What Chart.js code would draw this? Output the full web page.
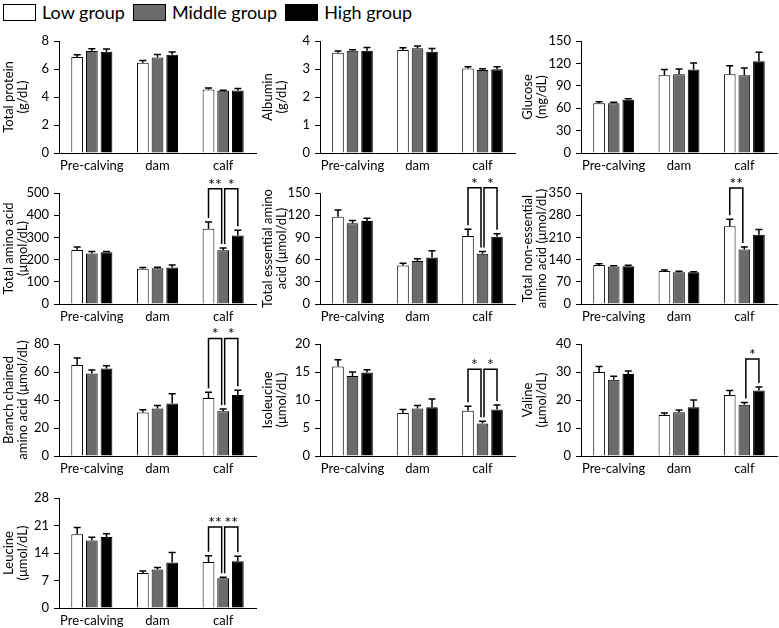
<!DOCTYPE html>
<html><head><meta charset="utf-8">
<script src="https://cdn.jsdelivr.net/npm/chart.js@4"></script>
<style>
html,body{margin:0;padding:0;background:#fff;width:779px;height:628px;overflow:hidden;position:relative;font-family:Lato,sans-serif;}
.pan{position:absolute;}
#legend{position:absolute;left:3px;top:1px;display:flex;align-items:center;font-size:18px;color:#000;white-space:nowrap;}
#legend span.box{display:inline-block;width:31px;height:15px;border:1.5px solid #000;margin-right:6px;}
#legend span.item{display:flex;align-items:center;margin-right:8px;}
</style></head><body>
<div id="legend"></div>
<script>
const categories = ['Pre-calving', 'dam', 'calf'];
const seriesNames = ['Low group', 'Middle group', 'High group'];

// means [low, middle, high] per category; errors likewise
const totalProteinMean = [[6.85, 6.44, 4.53], [7.28, 6.83, 4.44], [7.23, 7.02, 4.46]];
const totalProteinErr  = [[0.17, 0.17, 0.12], [0.17, 0.20, 0.05], [0.19, 0.20, 0.14]];
const albuminMean = [[3.58, 3.68, 3.02], [3.65, 3.74, 2.96], [3.65, 3.62, 2.99]];
const albuminErr  = [[0.06, 0.08, 0.06], [0.04, 0.08, 0.05], [0.12, 0.11, 0.09]];
const glucoseMean = [[66.7, 104, 105.4], [66.7, 105.4, 104], [71.2, 111.7, 123]];
const glucoseErr  = [[1.8, 7.7, 11.6], [1.3, 7.2, 10], [1.3, 9, 12]];
const taaMean = [[243, 159, 339], [227, 161, 242], [233, 164, 309]];
const taaErr  = [[14, 5, 30], [10, 4, 10], [4, 12, 23]];
const teaaMean = [[118, 52, 92], [109, 58, 68], [112, 63, 91]];
const teaaErr  = [[9, 3, 9], [4, 3, 3], [4, 9, 4]];
const tneaaMean = [[123, 104, 245], [118, 100, 172], [119, 100, 218]];
const tneaaErr  = [[4, 3, 22], [3, 3, 8], [3, 2, 17]];
const bcaaMean = [[65, 31, 41.5], [59, 34, 32], [62.5, 37.5, 43.5]];
const bcaaErr  = [[5, 2, 4], [2.5, 2, 1.5], [2, 7, 3.5]];
const ileMean = [[16, 7.7, 8.1], [14.3, 8.5, 5.8], [14.9, 8.7, 8.3]];
const ileErr  = [[1.2, 0.6, 0.8], [0.7, 0.5, 0.4], [0.5, 1.5, 0.8]];
const valMean = [[30, 14.6, 21.8], [27.2, 15.6, 18.3], [29.3, 17.4, 23.4]];
const valErr  = [[2, 0.8, 1.6], [1.3, 0.8, 0.8], [1.1, 2.6, 1.2]];
const leuMean = [[18.8, 8.9, 11.7], [17.2, 9.8, 7.6], [18.1, 11.6, 11.9]];
const leuErr  = [[1.7, 0.5, 1.6], [0.8, 0.5, 0.2], [0.8, 2.5, 1.3]];

// y-axis ranges [max, step]
const yRanges = [[8, 2], [4, 1], [150, 30], [500, 100], [150, 30], [350, 70], [80, 20], [20, 5], [40, 10], [28, 7]];
const yTitles = [
  ['Total protein', '(g/dL)'], ['Albumin', '(g/dL)'], ['Glucose', '(mg/dL)'],
  ['Total amino acid', '(μmol/dL)'], ['Total essential amino', 'acid (μmol/dL)'], ['Total non-essential', 'amino acid (μmol/dL)'],
  ['Branch chained', 'amino acid (μmol/dL)'], ['Isoleucine', '(μmol/dL)'], ['Valine', '(μmol/dL)'],
  ['Leucine', '(μmol/dL)']
];
// significance brackets on "calf": [fromSeries, toSeries, bracketTopValue, label]
const sigTAA   = [[0, 1, 519, '**'], [1, 2, 519, '*']];
const sigTEAA  = [[0, 1, 157, '*'], [1, 2, 157, '*']];
const sigTNEAA = [[0, 1, 366, '**']];
const sigBCAA  = [[0, 1, 84, '*'], [1, 2, 84, '*']];
const sigIle   = [[0, 1, 15.5, '*'], [1, 2, 15.5, '*']];
const sigVal   = [[1, 2, 34.6, '*']];
const sigLeu   = [[0, 1, 20.6, '**'], [1, 2, 20.6, '**']];

const panelsData = [
  [totalProteinMean, totalProteinErr, []], [albuminMean, albuminErr, []], [glucoseMean, glucoseErr, []],
  [taaMean, taaErr, sigTAA], [teaaMean, teaaErr, sigTEAA], [tneaaMean, tneaaErr, sigTNEAA],
  [bcaaMean, bcaaErr, sigBCAA], [ileMean, ileErr, sigIle], [valMean, valErr, sigVal],
  [leuMean, leuErr, sigLeu]
];

// ---- layout (styling, not data) ----
const FONT = 'Lato, "Noto Sans", sans-serif';
const fills = ['#ffffff', '#6b6b6b', '#000000'];
const colLeft = [0, 259, 519], colWidth = [259, 259, 260], axisX = [59, 320, 581], rightEnd = [256, 515, 777];
const rowTop = [41, 193, 344, 498], rowZero = [153, 304, 456, 608];
const PADTOP = 28, XAXH = 24, BELOW = 26;

// legend
const lg = document.getElementById('legend');
seriesNames.forEach((n, i) => {
  const it = document.createElement('span'); it.className = 'item';
  const b = document.createElement('span'); b.className = 'box'; b.style.background = fills[i];
  const t = document.createElement('span'); t.textContent = n;
  it.appendChild(b); it.appendChild(t); lg.appendChild(it);
});

const errPlugin = {
  id: 'errbars',
  afterDatasetsDraw(chart) {
    const ctx = chart.ctx, ys = chart.scales.y;
    const errs = chart.options.plugins.errbars.errors;
    ctx.save(); ctx.strokeStyle = '#000'; ctx.lineWidth = 1.5;
    chart.data.datasets.forEach((ds, di) => {
      chart.getDatasetMeta(di).data.forEach((bar, i) => {
        const yt = ys.getPixelForValue(ds.data[i] + errs[di][i]);
        ctx.beginPath();
        ctx.moveTo(bar.x, bar.y); ctx.lineTo(bar.x, yt);
        ctx.moveTo(bar.x - 3.5, yt); ctx.lineTo(bar.x + 3.5, yt);
        ctx.stroke();
      });
    });
    const sig = chart.options.plugins.errbars.sig;
    const ci = 2;
    sig.forEach(([a, b, top, label]) => {
      const ba = chart.getDatasetMeta(a).data[ci], bb = chart.getDatasetMeta(b).data[ci];
      const xa = ba.x + (a === 1 ? 1.5 : 0), xb = bb.x - (b === 1 ? 1.5 : 0);
      const ya = ys.getPixelForValue(chart.data.datasets[a].data[ci] + errs[a][ci]) - 4;
      const yb = ys.getPixelForValue(chart.data.datasets[b].data[ci] + errs[b][ci]) - 4;
      const yt = ys.getPixelForValue(top);
      ctx.beginPath();
      ctx.moveTo(xa, ya); ctx.lineTo(xa, yt); ctx.lineTo(xb, yt); ctx.lineTo(xb, yb);
      ctx.stroke();
      ctx.fillStyle = '#000'; ctx.font = '16px ' + FONT; ctx.textAlign = 'center'; ctx.textBaseline = 'alphabetic';
      ctx.fillText(label, (xa + xb) / 2, yt + 1);
    });
    ctx.restore();
  }
};

panelsData.forEach(([mean, err, sig], p) => {
  const r = Math.floor(p / 3), c = p % 3;
  const top = rowTop[r] - PADTOP;
  const h = rowZero[r] + BELOW - top;
  const div = document.createElement('div'); div.className = 'pan';
  div.style.left = colLeft[c] + 'px'; div.style.top = top + 'px';
  div.style.width = colWidth[c] + 'px'; div.style.height = h + 'px';
  const cv = document.createElement('canvas'); cv.width = colWidth[c]; cv.height = h;
  div.appendChild(cv); document.body.appendChild(div);
  const yW = axisX[c] - colLeft[c];
  const [ymax, ystep] = yRanges[p];
  new Chart(cv, {
    type: 'bar',
    data: {
      labels: categories,
      datasets: mean.map((m, i) => ({
        label: seriesNames[i], data: m, backgroundColor: fills[i], borderColor: '#000', borderWidth: 1,
        categoryPercentage: 0.67, barPercentage: 0.8
      }))
    },
    options: {
      responsive: false, animation: false, devicePixelRatio: 1,
      layout: { padding: { left: 0, top: PADTOP, right: colLeft[c] + colWidth[c] - rightEnd[c], bottom: h - PADTOP - (rowZero[r] - rowTop[r]) - XAXH } },
      plugins: { legend: { display: false }, tooltip: { enabled: false }, errbars: { errors: err, sig: sig } },
      scales: {
        x: {
          grid: { display: true, drawOnChartArea: false, drawTicks: false },
          border: { display: true, color: '#000', width: 1 },
          ticks: { color: '#000', font: { family: FONT, size: 13 }, padding: 5, maxRotation: 0, autoSkip: false },
          afterFit: s => { s.height = XAXH; }
        },
        y: {
          min: 0, max: ymax,
          grid: { display: true, drawOnChartArea: false, drawTicks: true, tickLength: 5, color: '#000' },
          border: { display: true, color: '#000', width: 1 },
          ticks: { stepSize: ystep, color: '#000', font: { family: FONT, size: 13 }, padding: 5 },
          title: { display: true, text: yTitles[p], color: '#000', font: { family: FONT, size: 13, lineHeight: 1.05 }, padding: { top: 2, bottom: 0 } },
          afterFit: s => { s.width = yW; }
        }
      }
    },
    plugins: [errPlugin]
  });
});
</script>
</body></html>
